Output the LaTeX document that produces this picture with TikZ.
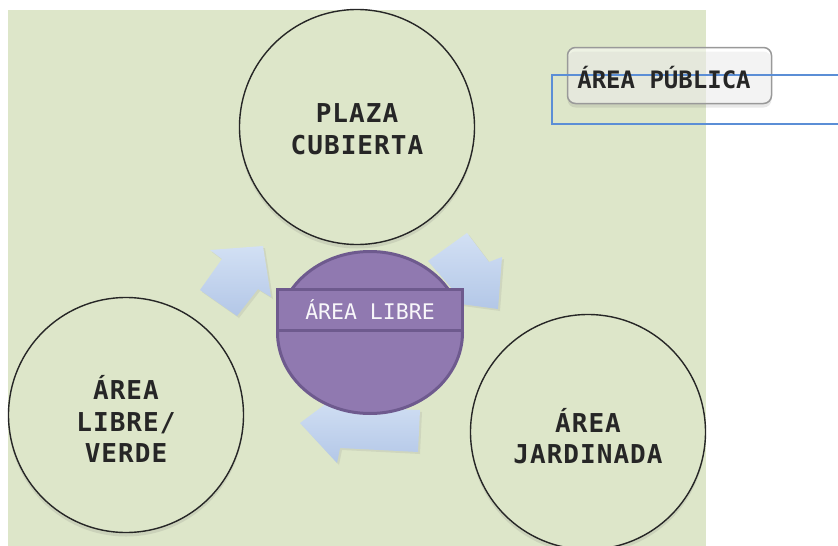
\documentclass[tikz,border=0pt]{standalone}
\usepackage{fontspec}
\usetikzlibrary{shapes.geometric,shadows}
\newfontfamily\dmono{DejaVu Sans Mono}
\newfontfamily\dmonols[LetterSpace=4]{DejaVu Sans Mono}
\definecolor{bggreen}{HTML}{DDE6C9}
\definecolor{lilac}{HTML}{9079B0}
\definecolor{lilacdark}{HTML}{6E5A8E}
\definecolor{arrowtop}{HTML}{D2E0F4}
\definecolor{arrowbot}{HTML}{B3C7E7}
\definecolor{txtdark}{HTML}{262626}
\definecolor{bluebox}{HTML}{5B8ED6}
\tikzset{
  areacirc/.style={circle, draw=black!85, line width=1.4pt, fill=bggreen,
    minimum size=235pt, inner sep=0pt,
    drop shadow={shadow xshift=0pt, shadow yshift=-4pt, opacity=0.15, fill=black!60}},
  areatext/.style={font=\dmonols\bfseries\fontsize{26}{31.5}\selectfont, text=txtdark, align=center, inner sep=0pt},
  flowarrow/.style={top color=arrowtop, bottom color=arrowbot, draw=none,
    drop shadow={shadow xshift=2pt, shadow yshift=-2pt, opacity=0.15, fill=black!50}},
}
\begin{document}
\begin{tikzpicture}[x=1pt,y=-1pt]
\useasboundingbox (0,0) rectangle (838,546);
\clip (0,0) rectangle (838,546);
% background
\fill[bggreen] (8,10) rectangle (706,546);
% arrows
\path[flowarrow] (263,246) -- (271,297) -- (258,289) -- (237,316) -- (200,290) -- (222,259) -- (210,250) -- cycle;
\path[flowarrow] (498,309) -- (502,257) -- (489,262) -- (467,233) -- (428,261) -- (454,291) -- (446,302) -- cycle;
\path[flowarrow] (300,423) -- (335,397) -- (340,407) -- (420,410) -- (418,452) -- (340,448) -- (337,463) -- cycle;
% circles
\node[areacirc] (plaza) at (357,127) {};
\node[areacirc] (verde) at (126,415) {};
\node[areacirc] (jardin) at (588,432) {};
\node[areatext] (plazat) at (357,129) {PLAZA\\CUBIERTA};
\node[areatext] (verdet) at (126,419) {ÁREA\\LIBRE/\\VERDE};
\node[areatext] (jardint) at (588,436) {ÁREA\\JARDINADA};
% central
\node[ellipse, fill=lilac, draw=lilacdark, line width=3pt, minimum width=185pt, minimum height=162pt, inner sep=0pt] (libre) at (370,332.5) {};
\node[rectangle, fill=lilac, draw=lilacdark, line width=3pt, minimum width=185pt, minimum height=41pt, inner sep=0pt,
  font=\dmono\fontsize{21.5}{24}\selectfont, text=white!94!lilac] (band) at (370,310) {ÁREA LIBRE};
% publica box
\node[rectangle, rounded corners=8pt, draw=black!40, line width=1.5pt, fill=white, fill opacity=0.5,
  minimum width=204pt, minimum height=56pt, inner sep=0pt,
  drop shadow={shadow xshift=0pt, shadow yshift=-4pt, opacity=0.15, fill=black!60}] (publica) at (669.5,75.5) {};
\draw[bluebox, line width=1.4pt] (552,75) rectangle (860,124);
\node[font=\dmono\bfseries\fontsize{24}{28}\selectfont, text=txtdark, inner sep=0pt] (publicat) at (664,78) {ÁREA PÚBLICA};
\end{tikzpicture}
\end{document}
